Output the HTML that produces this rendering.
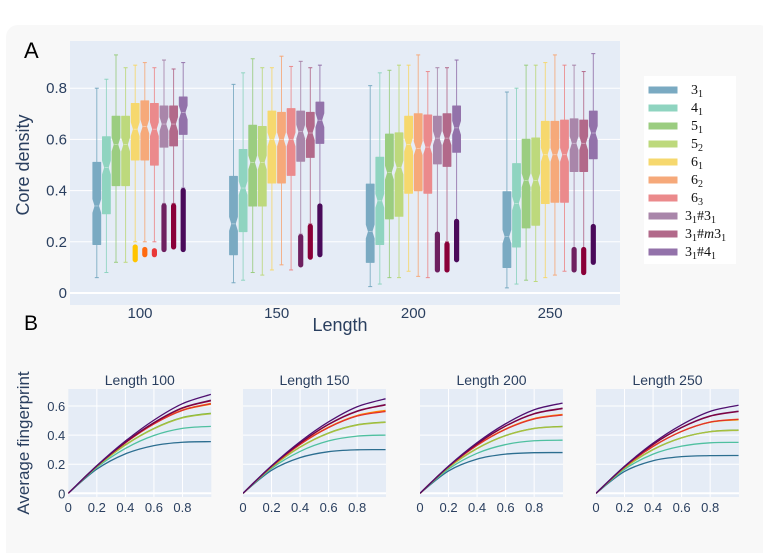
<!DOCTYPE html>
<html><head><meta charset="utf-8">
<style>
html,body{margin:0;padding:0;background:#fff;width:763px;height:553px;overflow:hidden}
svg{display:block;font-family:"Liberation Sans",sans-serif}
</style></head>
<body>
<svg id="fig" width="763" height="553" viewBox="0 0 763 553">
  <rect x="6" y="25" width="765" height="540" rx="12" fill="#f8f8f8"/>
  <text x="24" y="58" font-size="22" fill="#000">A</text>
  <text x="24" y="330" font-size="21" fill="#000">B</text>
  <g id="topChart"></g>
  <g id="bottomChart"></g>
  <g id="legend"></g>
</svg>
<script>
// ---------- data: top box plot ----------
const lengths = [100, 150, 200, 250];
const knots = ['3_1','4_1','5_1','5_2','6_1','6_2','6_3','3_1#3_1','3_1#m3_1','3_1#4_1'];
const yTicks = [0, 0.2, 0.4, 0.6, 0.8];
// per length: per knot [lowWhisker, q1, median, q3, highWhisker]
const stats100 = [[0.06,0.19,0.34,0.51,0.80],[0.08,0.31,0.49,0.61,0.835],[0.12,0.42,0.58,0.69,0.93],[0.12,0.42,0.58,0.69,0.88],[0.20,0.52,0.64,0.74,0.89],[0.20,0.52,0.65,0.75,0.90],[0.20,0.50,0.64,0.74,0.88],[0.35,0.57,0.66,0.73,0.91],[0.35,0.575,0.66,0.73,0.875],[0.41,0.62,0.705,0.765,0.90]];
const stats150 = [[0.04,0.15,0.27,0.455,0.815],[0.05,0.24,0.41,0.56,0.86],[0.08,0.34,0.51,0.655,0.915],[0.07,0.34,0.51,0.65,0.88],[0.09,0.43,0.60,0.71,0.88],[0.11,0.43,0.60,0.705,0.925],[0.09,0.46,0.60,0.72,0.885],[0.23,0.515,0.63,0.71,0.905],[0.27,0.53,0.625,0.705,0.88],[0.34,0.585,0.675,0.745,0.89]];
const stats200 = [[0.025,0.12,0.24,0.425,0.81],[0.035,0.19,0.36,0.53,0.86],[0.06,0.29,0.47,0.62,0.87],[0.06,0.30,0.49,0.625,0.89],[0.085,0.39,0.58,0.69,0.89],[0.065,0.40,0.565,0.70,0.93],[0.06,0.39,0.57,0.695,0.865],[0.235,0.505,0.605,0.69,0.88],[0.20,0.495,0.605,0.70,0.88],[0.28,0.55,0.645,0.73,0.91]];
const stats250 = [[0.02,0.10,0.22,0.395,0.785],[0.035,0.18,0.35,0.505,0.80],[0.05,0.255,0.44,0.60,0.89],[0.045,0.265,0.44,0.605,0.89],[0.06,0.35,0.54,0.67,0.90],[0.07,0.355,0.54,0.67,0.93],[0.085,0.355,0.54,0.675,0.89],[0.17,0.475,0.585,0.68,0.89],[0.17,0.475,0.585,0.675,0.865],[0.26,0.525,0.625,0.71,0.935]];
// outlier ranges [min,max] (null = none)
const out100 = [null,null,null,null,[0.13,0.18],[0.15,0.17],[0.15,0.165],[0.17,0.34],[0.18,0.34],[0.17,0.40]];
const out150 = [null,null,null,null,null,null,null,[0.11,0.22],[0.14,0.26],[0.15,0.34]];
const out200 = [null,null,null,null,null,null,null,[0.09,0.23],[0.09,0.19],[0.13,0.28]];
const out250 = [null,null,null,null,null,null,null,[0.09,0.17],[0.08,0.17],[0.12,0.26]];

// ---------- data: bottom fingerprint curves ----------
const fpX = [0, 0.2, 0.4, 0.6, 0.8, 1.0];
const fpXTicks = [0, 0.2, 0.4, 0.6, 0.8];
const fpYTicks = [0, 0.2, 0.4, 0.6];
const fp100 = [[0,.166,.271,.328,.351,.355],[0,.177,.308,.397,.446,.46],[0,.184,.333,.446,.521,.55],[0,.183,.331,.443,.518,.547],[0,.188,.347,.477,.570,.612],[0,.188,.348,.479,.573,.618],[0,.188,.347,.477,.570,.615],[0,.188,.351,.486,.588,.64],[0,.188,.350,.484,.585,.636],[0,.190,.359,.503,.616,.68]];
const fp150 = [[0,.158,.245,.286,.299,.30],[0,.171,.288,.360,.393,.40],[0,.179,.318,.415,.471,.49],[0,.179,.317,.413,.469,.488],[0,.184,.336,.453,.532,.565],[0,.184,.337,.455,.535,.57],[0,.184,.336,.452,.531,.562],[0,.188,.345,.475,.566,.61],[0,.188,.344,.473,.563,.607],[0,.189,.354,.491,.595,.65]];
const fp200 = [[0,.154,.235,.269,.279,.28],[0,.167,.275,.335,.361,.365],[0,.177,.308,.397,.446,.46],[0,.177,.307,.396,.445,.458],[0,.183,.330,.441,.512,.54],[0,.183,.331,.442,.514,.542],[0,.183,.330,.440,.511,.538],[0,.185,.340,.463,.548,.585],[0,.185,.339,.462,.546,.582],[0,.187,.348,.478,.574,.62]];
const fp250 = [[0,.150,.224,.252,.259,.26],[0,.165,.269,.324,.347,.35],[0,.174,.301,.382,.424,.435],[0,.174,.300,.381,.423,.433],[0,.181,.322,.425,.488,.505],[0,.181,.323,.426,.490,.51],[0,.181,.322,.425,.489,.508],[0,.184,.336,.453,.532,.565],[0,.184,.336,.452,.530,.562],[0,.186,.345,.471,.563,.605]];

const boxColors = ['#7aaac2','#8fd4c0','#9bcd80','#bdd97c','#f6d86e','#f6a97a','#eb8a8c','#a986aa','#b2698a','#9372aa'];
const outColors = ['#2c6e90','#40b090','#5aa020','#9ab82a','#ffc400','#ff6a10','#e83838','#6e2060','#8a0038','#4a0a5a'];
const lineColors = ['#2c6e90','#4fc0a0','#6ab030','#a8c040','#f0c000','#ff8000','#e03030','#6a2060','#800040','#501070'];

const NS = 'http://www.w3.org/2000/svg';
function mk(tag, attrs, parent){const e=document.createElementNS(NS,tag);for(const k in attrs)e.setAttribute(k,attrs[k]);parent.appendChild(e);return e;}

// ---------- top chart ----------
const topG = document.getElementById('topChart');
const PL=70, PR=620, PT=41, PB=305;
const yScale = v => 293 - 256*v;
const xCat = i => 140 + i*136.7;
const xBox = (i,k) => xCat(i) - 43.2 + k*9.6;
let bg = mk('rect',{x:PL,y:PT,width:PR-PL,height:PB-PT,fill:'#e5ecf6'},topG);


yTicks.forEach(t=>{
  const l = mk('line',{x1:PL,x2:PR,y1:yScale(t),y2:yScale(t),stroke:'#fff','stroke-width':t===0?2:1},topG);
  
  
  const tx = mk('text',{x:PL-3,y:yScale(t)+5,'text-anchor':'end','font-size':15,fill:'#2a3f5f'},topG);
  tx.textContent = t===0?'0':t.toFixed(1);
  
  
});
lengths.forEach((L,i)=>{
  const tx = mk('text',{x:xCat(i),y:318,'text-anchor':'middle','font-size':15,fill:'#2a3f5f'},topG);
  tx.textContent = L;
  
  
});
const allStats=[stats100,stats150,stats200,stats250];
const allOut=[out100,out150,out200,out250];
allStats.forEach((st,i)=>{
  st.forEach((s,k)=>{
    const cx = xBox(i,k), hw=3.8, c=boxColors[k];
    const g = mk('g',{},topG);
    
    
    mk('line',{x1:cx,x2:cx,y1:yScale(s[0]),y2:yScale(s[1]),stroke:c,'stroke-width':1,opacity:0.85},g);
    mk('line',{x1:cx,x2:cx,y1:yScale(s[3]),y2:yScale(s[4]),stroke:c,'stroke-width':1,opacity:0.85},g);
    mk('line',{x1:cx-2,x2:cx+2,y1:yScale(s[0]),y2:yScale(s[0]),stroke:c,'stroke-width':1},g);
    mk('line',{x1:cx-2,x2:cx+2,y1:yScale(s[4]),y2:yScale(s[4]),stroke:c,'stroke-width':1},g);
    const yq1=yScale(s[1]), yq3=yScale(s[3]), ym=yScale(s[2]);
    const n = Math.min(7,(yq1-yq3)/3), ni=2.2;
    const pts=[[cx-hw,yq1],[cx-hw,ym+n],[cx-hw+ni,ym],[cx-hw,ym-n],[cx-hw,yq3],[cx+hw,yq3],[cx+hw,ym-n],[cx+hw-ni,ym],[cx+hw,ym+n],[cx+hw,yq1]];
    mk('polygon',{points:pts.map(p=>p.join(',')).join(' '),fill:c,stroke:c,'stroke-width':1.2,'stroke-linejoin':'round'},g);
    mk('line',{x1:cx-hw+ni,x2:cx+hw-ni,y1:ym,y2:ym,stroke:'#fff','stroke-width':0.6,opacity:0.6},g);
    const o = allOut[i][k];
    if(o){
      const r = mk('rect',{x:cx-2.6,y:yScale(o[1])-2.6,width:5.2,height:yScale(o[0])-yScale(o[1])+5.2,rx:2.6,fill:outColors[k]},topG);
      
      
    }
  });
});
let yt = mk('text',{x:0,y:0,transform:'translate(29,165) rotate(-90)','text-anchor':'middle','font-size':18,fill:'#2a3f5f'},topG);
yt.textContent='Core density';


let xt = mk('text',{x:340,y:331,'text-anchor':'middle','font-size':18,fill:'#2a3f5f'},topG);
xt.textContent='Length';



// ---------- legend ----------
const leg = document.getElementById('legend');
let lb = mk('rect',{x:644,y:76,width:92,height:188,fill:'#fff'},leg);


const S = s => '<tspan dy="3" font-size="10">'+s+'</tspan>';
const U = s => '<tspan dy="-3">'+s+'</tspan>';
const legLabels=['3'+S('1'),'4'+S('1'),'5'+S('1'),'5'+S('2'),'6'+S('1'),'6'+S('2'),'6'+S('3'),
  '3'+S('1')+U('#3')+S('1'),
  '3'+S('1')+'<tspan dy="-3">#</tspan><tspan font-style="italic">m</tspan>3'+S('1'),
  '3'+S('1')+U('#4')+S('1')];
knots.forEach((k,j)=>{
  const y = 90 + j*18;
  const g = mk('g',{},leg);
  
  
  mk('rect',{x:649,y:y-3,width:28,height:6,fill:boxColors[j],stroke:boxColors[j]},g);
  const t = mk('text',{x:j<7?691:685,y:y+4,'font-size':14,fill:'#111','font-family':'"Liberation Serif",serif'},g);
  t.innerHTML = legLabels[j];
});

// ---------- bottom charts ----------
const botG = document.getElementById('bottomChart');
const panelsX=[68.3,243,420,596], PW=143, BT=389, BB=497;
const by = v => 493.3 - 145.5*v;
const allFp=[fp100,fp150,fp200,fp250];
function smooth(pts){
  let d='M'+pts[0][0]+','+pts[0][1];
  for(let i=0;i<pts.length-1;i++){
    const p0=pts[Math.max(0,i-1)],p1=pts[i],p2=pts[i+1],p3=pts[Math.min(pts.length-1,i+2)];
    const c1=[p1[0]+(p2[0]-p0[0])/6,p1[1]+(p2[1]-p0[1])/6];
    const c2=[p2[0]-(p3[0]-p1[0])/6,p2[1]-(p3[1]-p1[1])/6];
    d+=' C'+c1.join(',')+' '+c2.join(',')+' '+p2.join(',');
  }
  return d;
}
allFp.forEach((series,i)=>{
  const x0=panelsX[i], bx = v => x0 + 142.7*Math.min(v,0.999);
  const g = mk('g',{},botG);
  
  
  const cid='clip'+i;
  const cp = mk('clipPath',{id:cid},g); mk('rect',{x:x0,y:BT,width:PW,height:BB-BT},cp);
  let r = mk('rect',{x:x0,y:BT,width:PW,height:BB-BT,fill:'#e5ecf6'},g);
  
  
  fpXTicks.forEach(t=>{
    if(t>0){const l=mk('line',{x1:bx(t),x2:bx(t),y1:BT,y2:BB,stroke:'#fff','stroke-width':1},g);
    
    }
    const tx=mk('text',{x:bx(t),y:512,'text-anchor':'middle','font-size':13,fill:'#2a3f5f'},g);
    tx.textContent = t===0?'0':t.toFixed(1);
    
    
  });
  fpYTicks.forEach(t=>{
    const l=mk('line',{x1:x0,x2:x0+PW,y1:by(t),y2:by(t),stroke:'#fff','stroke-width':t===0?2:1},g);
    
    
    if(i===0){
      const tx=mk('text',{x:x0-3,y:by(t)+5,'text-anchor':'end','font-size':13,fill:'#2a3f5f'},g);
      tx.textContent = t===0?'0':t.toFixed(1);
      
      
    }
  });
  const tt=mk('text',{x:x0+PW/2,y:385,'text-anchor':'middle','font-size':14,fill:'#2a3f5f'},g);
  tt.textContent='Length '+lengths[i];
  
  
  const lg = mk('g',{'clip-path':'url(#'+cid+')'},g);
  series.forEach((vals,k)=>{
    const pts = vals.map((v,j)=>[Number(bx(fpX[j]).toFixed(2)),Number(by(v).toFixed(2))]);
    const p = mk('path',{d:smooth(pts),fill:'none',stroke:lineColors[k],'stroke-width':1.3},lg);
    
    
  });
});
let by2 = mk('text',{x:0,y:0,transform:'translate(29,443) rotate(-90)','text-anchor':'middle','font-size':17,fill:'#2a3f5f'},botG);
by2.textContent='Average fingerprint';


</script>
</body></html>
